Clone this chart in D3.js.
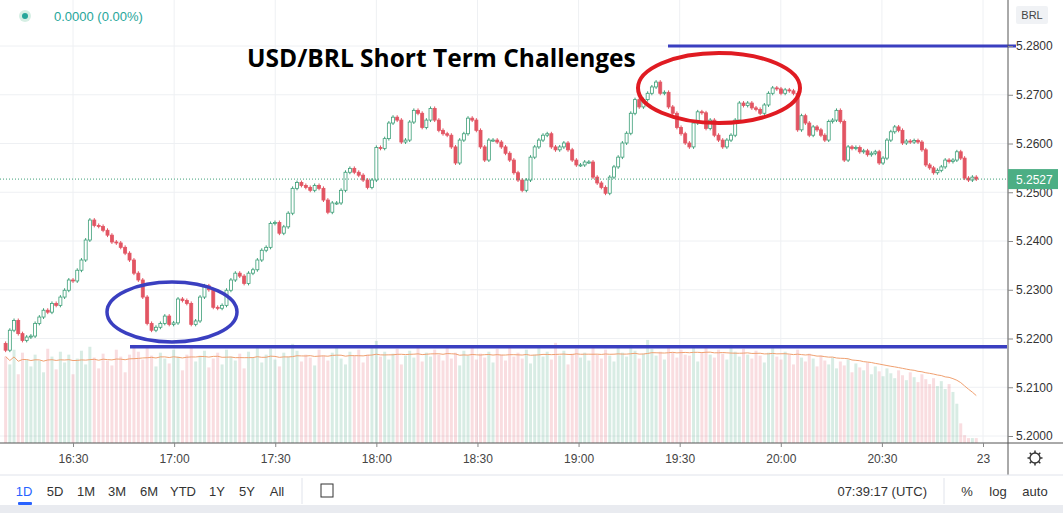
<!DOCTYPE html>
<html><head><meta charset="utf-8">
<script src="https://cdn.jsdelivr.net/npm/d3@7"></script>
<style>
body{margin:0;background:#fff;font-family:"Liberation Sans",Arial,sans-serif;}
svg{display:block}
</style></head>
<body><svg id="chart" width="1063" height="513"></svg>
<script>
// closes, one per candle, 16:10 -> 20:58
const closes = [5.2176,5.2217,5.2237,5.2210,5.2196,5.2203,5.2205,5.2231,5.2244,5.2258,5.2254,5.2272,5.2268,5.2285,5.2299,5.2320,5.2318,5.2340,5.2361,5.2402,
5.2443,5.2432,5.2430,5.2422,5.2412,5.2398,5.2396,5.2387,5.2375,5.2361,5.2334,5.2320,5.2285,5.2231,5.2217,5.2223,5.2231,5.2246,5.2229,5.2232,
5.2281,5.2278,5.2272,5.2229,5.2236,5.2285,5.2308,5.2300,5.2264,5.2262,5.2268,5.2299,5.2320,5.2334,5.2328,5.2313,5.2334,5.2341,5.2361,5.2381,
5.2387,5.2436,5.2438,5.2416,5.2429,5.2457,5.2508,5.2520,5.2514,5.2510,5.2504,5.2514,5.2508,5.2484,5.2459,5.2478,5.2478,5.2504,5.2541,5.2549,
5.2541,5.2535,5.2525,5.2510,5.2525,5.2592,5.2590,5.2610,5.2642,5.2654,5.2648,5.2603,5.2607,5.2644,5.2668,5.2662,5.2633,5.2648,5.2672,5.2648,
5.2627,5.2620,5.2617,5.2593,5.2560,5.2607,5.2620,5.2652,5.2648,5.2627,5.2593,5.2566,5.2607,5.2607,5.2603,5.2593,5.2580,5.2566,5.2540,5.2525,
5.2504,5.2525,5.2572,5.2593,5.2607,5.2617,5.2620,5.2593,5.2587,5.2593,5.2601,5.2587,5.2566,5.2556,5.2556,5.2562,5.2562,5.2531,5.2519,5.2510,
5.2498,5.2531,5.2552,5.2572,5.2601,5.2621,5.2662,5.2690,5.2675,5.2690,5.2703,5.2716,5.2726,5.2703,5.2705,5.2675,5.2662,5.2633,5.2620,5.2601,
5.2593,5.2642,5.2665,5.2663,5.2631,5.2648,5.2617,5.2607,5.2593,5.2607,5.2617,5.2648,5.2683,5.2678,5.2683,5.2673,5.2670,5.2662,5.2679,5.2703,
5.2714,5.2712,5.2703,5.2710,5.2708,5.2703,5.2628,5.2657,5.2642,5.2617,5.2634,5.2628,5.2617,5.2607,5.2645,5.2648,5.2668,5.2645,5.2566,5.2593,
5.2590,5.2592,5.2583,5.2585,5.2577,5.2580,5.2583,5.2560,5.2570,5.2607,5.2624,5.2634,5.2627,5.2601,5.2605,5.2603,5.2606,5.2603,5.2587,5.2556,
5.2550,5.2540,5.2545,5.2552,5.2566,5.2563,5.2566,5.2583,5.2570,5.2529,5.2525,5.2531,5.2527];
const firstOpen = 5.2190;
// candle index -> time of day
const anchorIdx = [0, 20, 85, 140, 152, 186, 232];
const anchorTime = ["16:10", "16:35", "18:00", "19:08", "19:23", "20:05", "20:58"];
const volumes = [88,80,95,70,92,85,78,90,84,72,96,88,75,93,82,90,70,86,94,80,
98,87,76,91,84,79,95,88,72,90,100,93,85,97,89,78,92,86,81,95,
88,74,90,97,83,89,94,77,86,92,80,95,88,84,91,76,93,87,99,82,
90,96,85,78,92,88,101,94,83,90,87,79,95,89,84,92,98,86,80,93,
89,95,82,90,97,104,88,93,85,91,96,80,89,94,87,99,83,92,88,95,
90,84,97,86,92,79,94,89,98,85,91,87,93,82,96,90,84,99,88,92,
86,95,81,90,97,88,93,85,102,89,94,80,91,96,87,92,84,98,90,86,
95,89,83,97,92,88,100,94,86,91,105,96,89,93,85,98,92,87,95,90,
89,97,83,92,98,90,87,95,91,85,100,93,
88,96,90,86,94,89,82,92,97,88,85,93,90,80,95,87,83,91,86,78,
89,84,80,87,76,83,79,85,72,81,77,74,82,70,78,73,68,76,71,66,
74,69,64,72,67,62,70,65,60,66,58,63,55,60,52,40,20,8,5];
const priceTicks = [5.2000,5.2100,5.2200,5.2300,5.2400,5.2500,5.2600,5.2700,5.2800];
const timeTicks = ["16:30","17:00","17:30","18:00","18:30","19:00","19:30","20:00","20:30","21:00"];
const timeLabels = ["16:30","17:00","17:30","18:00","18:30","19:00","19:30","20:00","20:30","23"];
const ranges = ["1D","5D","1M","3M","6M","YTD","1Y","5Y","All"];
const lastPrice = 5.2527;
const supportLevel = 5.2183, resistLevel = 5.2800;

const svg = d3.select("#chart");
const W = 1063, paneR = 1008, axisY = 443;
const tp = d3.timeParse("%H:%M");
const x = d3.scaleTime().domain([d3.timeSecond.offset(tp("16:08"), 20), d3.timeSecond.offset(tp("21:07"), 25)]).range([0, paneR]);
const y = d3.scaleLinear().domain([5.2, 5.28]).range([436, 46]);
const vy = d3.scaleLinear().domain([0, 110]).range([axisY, 335]);
const timeOf = d3.scaleLinear().domain(anchorIdx).range(anchorTime.map(s => +tp(s)));

const candles = closes.map((c, i) => {
  const o = i === 0 ? firstOpen : closes[i - 1];
  return { t: new Date(timeOf(i)), o, c, h: Math.max(o, c) + 0.0004, l: Math.min(o, c) - 0.0004, v: volumes[i] || 5 };
});

// grid
svg.append("g").selectAll("line").data(priceTicks).join("line")
  .attr("x1", 0).attr("x2", paneR).attr("y1", d => y(d)).attr("y2", d => y(d))
  .attr("stroke", "#eef0f3");
svg.append("g").selectAll("line").data(timeTicks).join("line")
  .attr("x1", d => x(tp(d))).attr("x2", d => x(tp(d))).attr("y1", 0).attr("y2", axisY)
  .attr("stroke", "#eef0f3");

// volume
const up = "#3d9f78", dn = "#e25563";
svg.append("g").selectAll("rect").data(candles).join("rect")
  .attr("x", d => x(d.t) - 1.5).attr("width", 3)
  .attr("y", d => vy(d.v)).attr("height", d => axisY - vy(d.v))
  .attr("fill", d => d.c >= d.o ? "rgba(61,159,120,0.2)" : "rgba(226,85,99,0.2)");
const ma = candles.map((d, i) => ({ t: d.t, v: d3.mean(candles.slice(Math.max(0, i - 19), i + 1), e => e.v) }));
svg.append("path").datum(ma)
  .attr("d", d3.line().x(d => x(d.t)).y(d => vy(d.v)))
  .attr("fill", "none").attr("stroke", "#f0a070").attr("stroke-width", 1);

// candles
const cg = svg.append("g").selectAll("g").data(candles).join("g");
cg.append("line").attr("x1", d => x(d.t)).attr("x2", d => x(d.t))
  .attr("y1", d => y(d.h)).attr("y2", d => y(d.l))
  .attr("stroke", d => d.c >= d.o ? up : dn);
cg.append("rect").attr("x", d => x(d.t) - 1.5).attr("width", 3)
  .attr("y", d => y(Math.max(d.o, d.c))).attr("height", d => Math.max(1, Math.abs(y(d.o) - y(d.c))))
  .attr("fill", d => d.c >= d.o ? "#fff" : dn)
  .attr("stroke", d => d.c >= d.o ? up : dn).attr("stroke-width", 0.8);

// last price line
svg.append("line").attr("x1", 0).attr("x2", paneR).attr("y1", y(lastPrice)).attr("y2", y(lastPrice))
  .attr("stroke", "#3d9f78").attr("stroke-dasharray", "1,2");

// annotations
svg.append("line").attr("x1", 668).attr("x2", 1016).attr("y1", y(resistLevel)).attr("y2", y(resistLevel))
  .attr("stroke", "#3a3fc0").attr("stroke-width", 3);
svg.append("line").attr("x1", 130).attr("x2", 1007).attr("y1", y(supportLevel)).attr("y2", y(supportLevel))
  .attr("stroke", "#3a3fc0").attr("stroke-width", 3.5);
svg.append("ellipse").attr("cx", 172).attr("cy", 312).attr("rx", 65).attr("ry", 30)
  .attr("fill", "none").attr("stroke", "#3a3fc0").attr("stroke-width", 3.5);
svg.append("ellipse").attr("cx", 719).attr("cy", 88).attr("rx", 81).attr("ry", 35)
  .attr("fill", "none").attr("stroke", "#e01b22").attr("stroke-width", 4);
svg.append("text").attr("x", 247).attr("y", 67).attr("font-family", "'Open Sans',sans-serif")
  .attr("font-weight", "bold").attr("font-size", 24.5).attr("fill", "#000").text("USD/BRL Short Term Challenges");

// header
svg.append("circle").attr("cx", 25).attr("cy", 16).attr("r", 6).attr("fill", "#d6efe4");
svg.append("circle").attr("cx", 25).attr("cy", 16).attr("r", 3).attr("fill", "#26a69a");
svg.append("text").attr("x", 54).attr("y", 21).attr("font-size", 13).attr("fill", "#26a69a").text("0.0000 (0.00%)");

// right axis
svg.append("line").attr("x1", paneR).attr("x2", paneR).attr("y1", 0).attr("y2", 475).attr("stroke", "#555");
svg.append("line").attr("x1", 0).attr("x2", W).attr("y1", axisY).attr("y2", axisY).attr("stroke", "#555");
const ya = svg.append("g").attr("transform", `translate(${paneR},0)`)
  .call(d3.axisRight(y).tickValues(priceTicks).tickFormat(d3.format(".4f")).tickSize(5));
ya.select(".domain").remove();
ya.selectAll("line").attr("stroke", "#888");
ya.selectAll("text").attr("font-size", 12).attr("fill", "#333").attr("x", 8).style("font-family", "'Liberation Sans',sans-serif");
svg.append("rect").attr("x", 1016).attr("y", 6).attr("width", 32).attr("height", 18).attr("rx", 2).attr("fill", "#f0f2f5");
svg.append("text").attr("x", 1032).attr("y", 19).attr("text-anchor", "middle").attr("font-size", 11).attr("fill", "#444").text("BRL");
svg.append("rect").attr("x", paneR).attr("y", y(lastPrice) - 10).attr("width", 50).attr("height", 20).attr("fill", "#4cae84");
svg.append("text").attr("x", paneR + 8).attr("y", y(lastPrice) + 5).attr("font-size", 12).attr("fill", "#fff").text(lastPrice.toFixed(4));

// time axis
const xa = svg.append("g").attr("transform", `translate(0,${axisY})`)
  .call(d3.axisBottom(x).tickValues(timeTicks.map(tp)).tickFormat((d, i) => timeLabels[i]).tickSize(4));
xa.select(".domain").remove();
xa.selectAll("line").attr("stroke", "#888");
xa.selectAll("text").attr("font-size", 12).attr("fill", "#444").attr("dy", "1.1em").style("font-family", "'Liberation Sans',sans-serif");
// gear
const gear = svg.append("g").attr("transform", "translate(1035,458)");
gear.append("circle").attr("r", 5).attr("fill", "none").attr("stroke", "#333").attr("stroke-width", 1.3);
gear.selectAll("line").data(d3.range(8)).join("line")
  .attr("x1", d => 5 * Math.cos(d * Math.PI / 4)).attr("y1", d => 5 * Math.sin(d * Math.PI / 4))
  .attr("x2", d => 7.5 * Math.cos(d * Math.PI / 4)).attr("y2", d => 7.5 * Math.sin(d * Math.PI / 4))
  .attr("stroke", "#333").attr("stroke-width", 1.5);

// toolbar
svg.append("line").attr("x1", 0).attr("x2", W).attr("y1", 475).attr("y2", 475).attr("stroke", "#e0e3eb");
svg.append("rect").attr("x", 0).attr("y", 505).attr("width", W).attr("height", 8).attr("fill", "#e9ebf0");
const rx = [24, 55, 86, 117, 149, 183, 217, 247, 277];
svg.append("g").selectAll("text").data(ranges).join("text")
  .attr("x", (d, i) => rx[i]).attr("y", 496).attr("text-anchor", "middle").attr("font-size", 13)
  .attr("fill", (d, i) => i === 0 ? "#2962ff" : "#333").text(d => d);
svg.append("rect").attr("x", 18).attr("y", 502).attr("width", 14).attr("height", 3).attr("rx", 1).attr("fill", "#2962ff");
svg.append("line").attr("x1", 302).attr("x2", 302).attr("y1", 478).attr("y2", 504).attr("stroke", "#e0e3eb");
svg.append("rect").attr("x", 321).attr("y", 484).attr("width", 12).attr("height", 13).attr("fill", "none").attr("stroke", "#333");
svg.append("text").attr("x", 927).attr("y", 496).attr("text-anchor", "end").attr("font-size", 13).attr("fill", "#333").text("07:39:17 (UTC)");
svg.append("line").attr("x1", 944).attr("x2", 944).attr("y1", 478).attr("y2", 504).attr("stroke", "#e0e3eb");
svg.append("text").attr("x", 967).attr("y", 496).attr("text-anchor", "middle").attr("font-size", 13).attr("fill", "#333").text("%");
svg.append("text").attr("x", 998).attr("y", 496).attr("text-anchor", "middle").attr("font-size", 13).attr("fill", "#333").text("log");
svg.append("text").attr("x", 1035).attr("y", 496).attr("text-anchor", "middle").attr("font-size", 13).attr("fill", "#333").text("auto");
</script></body></html>
